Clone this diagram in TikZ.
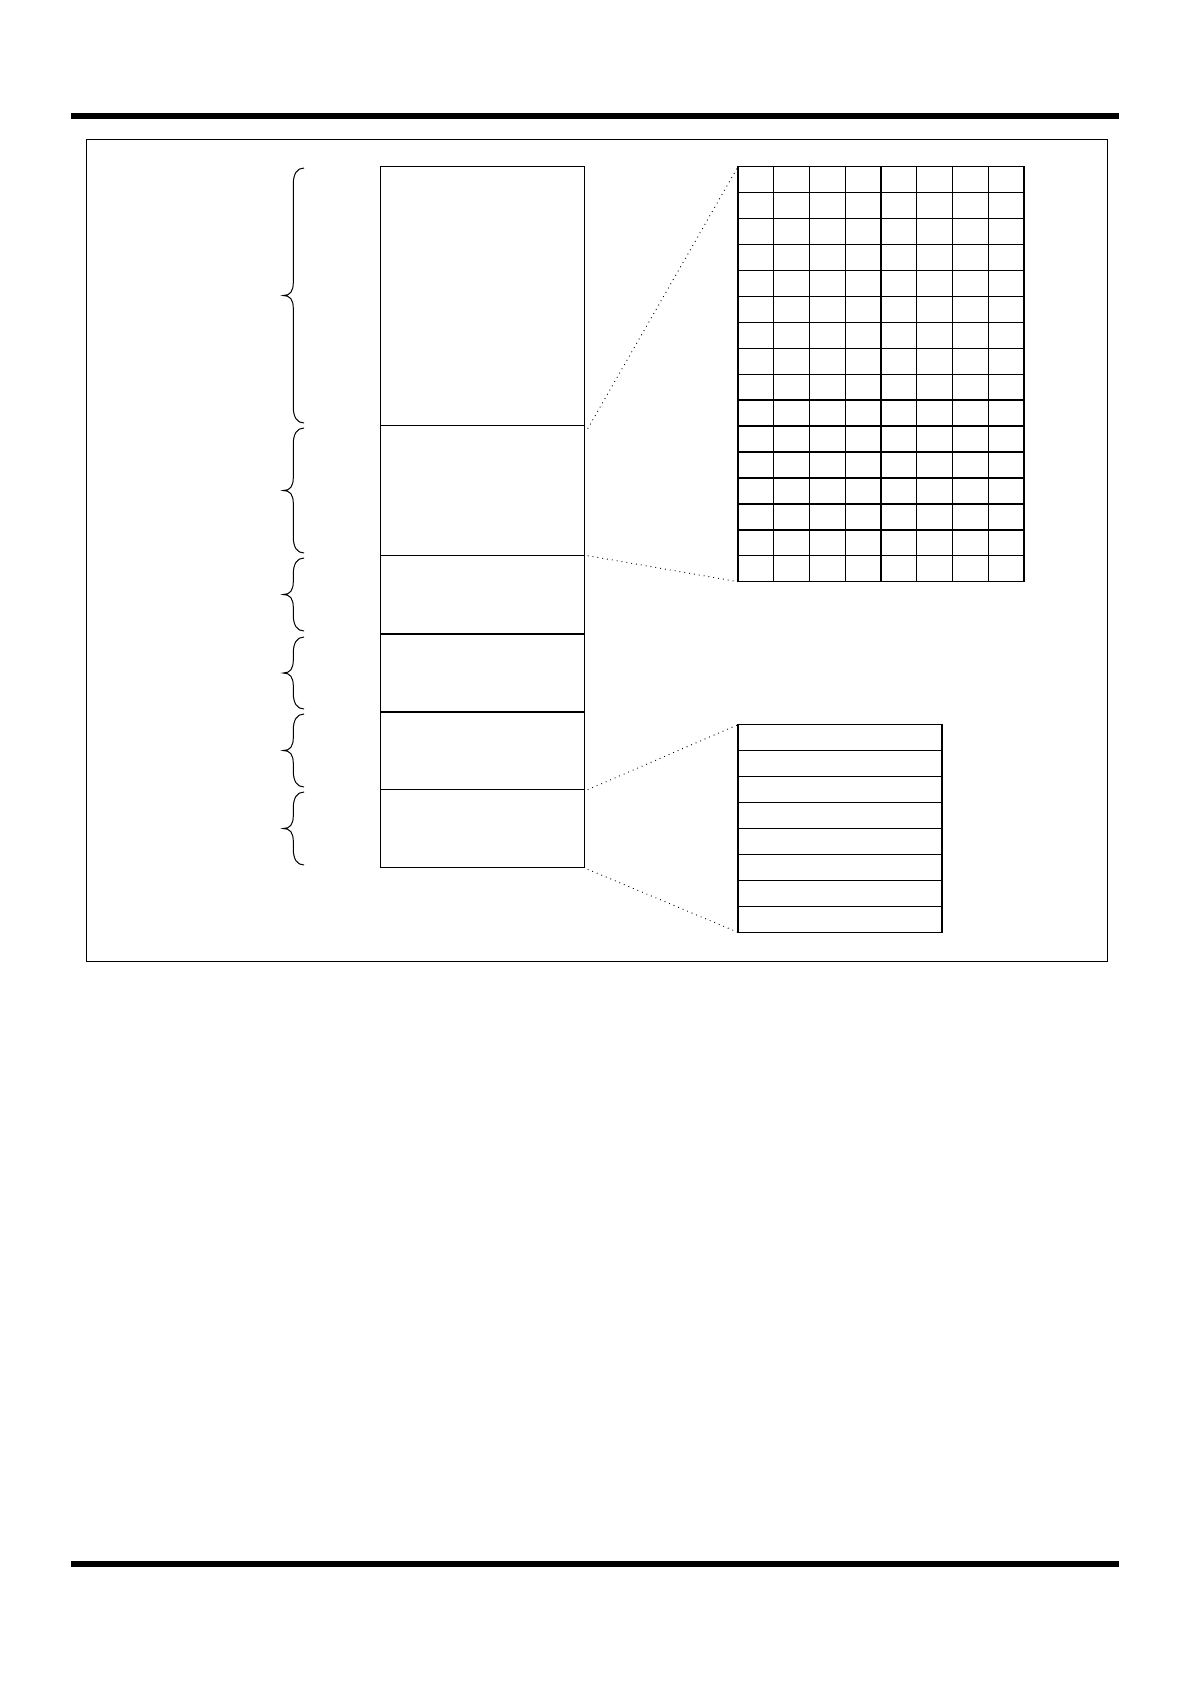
\documentclass[tikz,border=0pt]{standalone}
\begin{document}
\begin{tikzpicture}[x=1pt,y=-1pt,
  bar/.style={line width=6pt},
  frameline/.style={draw,line width=1pt,outer sep=0pt},
  sec/.style={draw,line width=1.3pt,inner sep=0pt,outer sep=0pt,minimum width=204pt,anchor=north west},
  tbl/.style={draw,line width=1.4pt,inner sep=0pt,outer sep=0pt,anchor=north west},
  cellline/.style={line width=1.4pt},
  zoomline/.style={line width=0.9pt,dash pattern=on 0.9pt off 4pt},
  bracestyle/.style={line width=1pt}]
\useasboundingbox (0,0) rectangle (1191,1684);
% header and footer bars
\draw[bar] (71,116) -- (1119,116);
\draw[bar] (71,1564) -- (1119,1564);
% frame
\node[frameline,inner sep=0pt,minimum width=1021pt,minimum height=821.6pt,anchor=north west] (frame) at (86.3,139.7) {};
% memory column
\node[sec,minimum height=259pt] (s1) at (380.7,166.7) {};
\node[sec,minimum height=130pt] (s2) at (s1.south west) {};
\node[sec,minimum height=78.3pt] (s3) at (s2.south west) {};
\node[sec,minimum height=78pt] (s4) at (s3.south west) {};
\node[sec,minimum height=77.7pt] (s5) at (s4.south west) {};
\node[sec,minimum height=77.6pt] (s6) at (s5.south west) {};
% braces
\foreach \t/\b in {168/423, 428/553, 558/631, 637/709, 714/787, 792/865}{
  \pgfmathsetmacro{\m}{(\t+\b)/2}
  \draw[bracestyle] (304,\t) .. controls (297,\t) and (293.3,\t+6) .. (293.3,\t+16)
    -- (293.3,\m-13) .. controls (293.3,\m-4) and (290,\m) .. (283.3,\m)
    .. controls (290,\m) and (293.3,\m+4) .. (293.3,\m+13)
    -- (293.3,\b-16) .. controls (293.3,\b-6) and (297,\b) .. (304,\b);
}
% expanded grid (8 x 16)
\node[tbl,minimum width=286pt,minimum height=415pt] (grid) at (738,166.7) {};
\foreach \i in {1,...,7}
  \draw[cellline] ([xshift=\i*35.75pt]grid.north west) -- ([xshift=\i*35.75pt]grid.south west);
\foreach \j in {1,...,15}
  \draw[cellline] ([yshift=-\j*25.9375pt]grid.north west) -- ([yshift=-\j*25.9375pt]grid.north east);
% expanded table (8 rows)
\node[tbl,minimum width=204pt,minimum height=207.6pt] (rows) at (738,724.7) {};
\foreach \j in {1,...,7}
  \draw[cellline] ([yshift=-\j*25.95pt]rows.north west) -- ([yshift=-\j*25.95pt]rows.north east);
% zoom connectors
\draw[zoomline] ([shift={(3pt,-3pt)}]s2.north east) -- (grid.north west);
\draw[zoomline] ([xshift=3pt]s2.south east) -- (grid.south west);
\draw[zoomline] ([xshift=3pt]s6.north east) -- (rows.north west);
\draw[zoomline] ([shift={(3pt,-2pt)}]s6.south east) -- (rows.south west);
\end{tikzpicture}
\end{document}
